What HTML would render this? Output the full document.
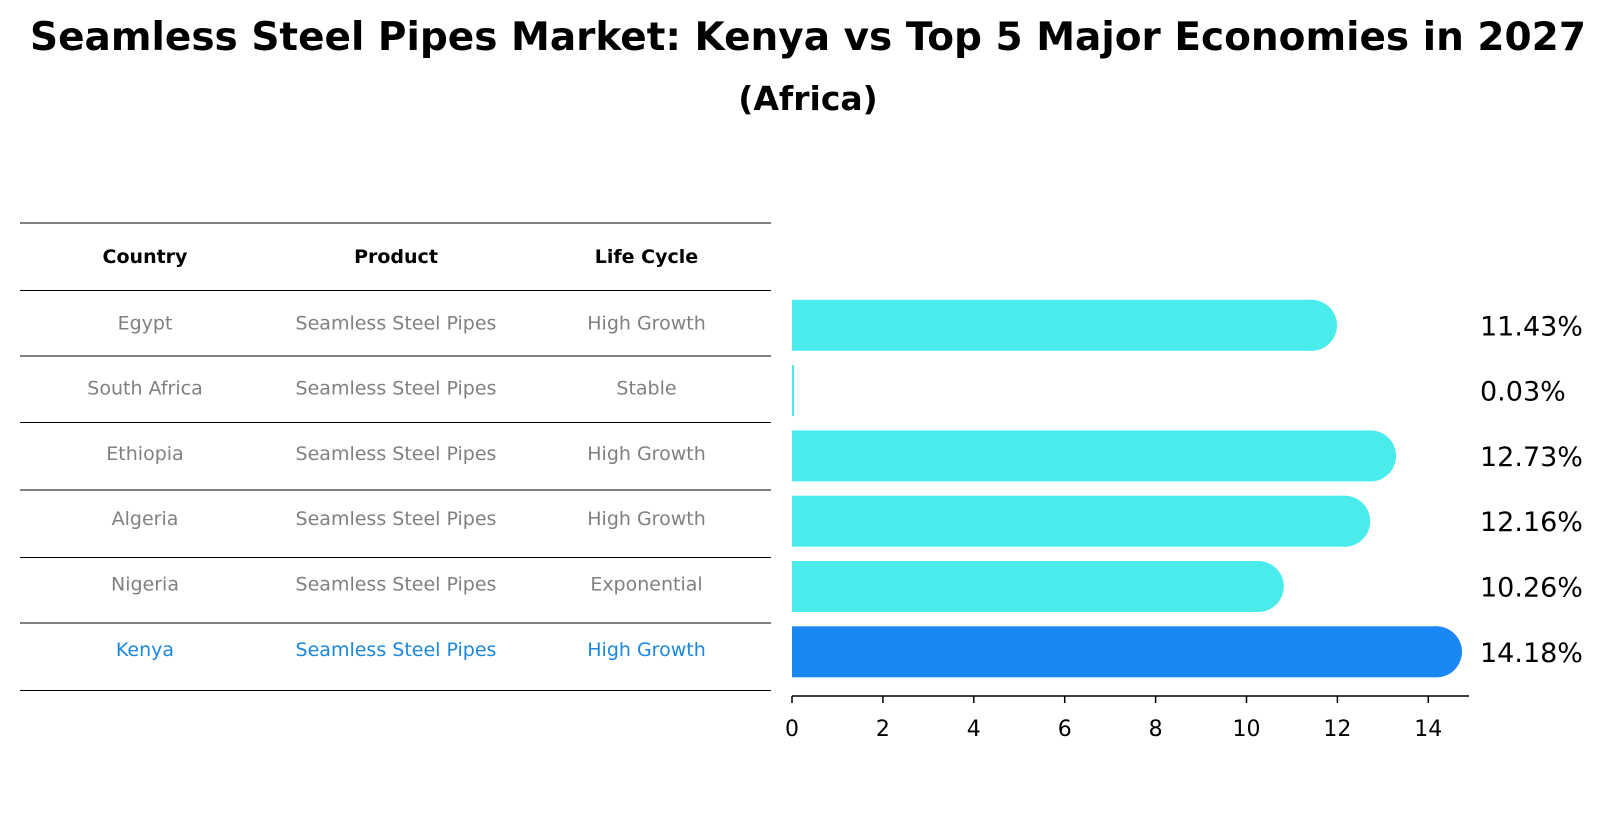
<!DOCTYPE html>
<html><head><meta charset="utf-8"><style>
body{margin:0;background:#fff;font-family:"Liberation Sans","DejaVu Sans",sans-serif;}
#root{position:relative;width:1604px;height:823px;overflow:hidden;}
.t{position:absolute;white-space:nowrap;line-height:1;}
</style></head><body><div id="root">
<div class="t" style="left:0;width:1616px;text-align:center;top:18px;font-size:39px;font-weight:bold;font-family:'DejaVu Sans',sans-serif;">Seamless Steel Pipes Market: Kenya vs Top 5 Major Economies in 2027</div>
<div class="t" style="left:0;width:1616px;text-align:center;top:82px;font-size:33px;font-weight:bold;font-family:'DejaVu Sans',sans-serif;">(Africa)</div>
<svg id="svg" width="1604" height="823" style="position:absolute;left:0;top:0"></svg>
</div>
<script>
const countries=["Egypt","South Africa","Ethiopia","Algeria","Nigeria","Kenya"];
const products=["Seamless Steel Pipes","Seamless Steel Pipes","Seamless Steel Pipes","Seamless Steel Pipes","Seamless Steel Pipes","Seamless Steel Pipes"];
const lifeCycles=["High Growth","Stable","High Growth","High Growth","Exponential","High Growth"];
const values=[11.43,0.03,12.73,12.16,10.26,14.18];
const ticks=[0,2,4,6,8,10,12,14];
const NS="http://www.w3.org/2000/svg";
const svg=document.getElementById('svg');
const x=v=>792+v*45.45;
const rowY=i=>325.3+i*65.3;
function mk(t,a,p){const e=document.createElementNS(NS,t);for(const k in a)e.setAttribute(k,a[k]);(p||svg).appendChild(e);return e;}
const F='DejaVu Sans, sans-serif';
const lines=[223,290.5,356,422.5,490,557.5,623,690.5];
lines.forEach((ly,i)=>{const l=mk('line',{x1:20,x2:771,y1:ly,y2:ly,stroke:'#000','stroke-width':1});

});
const cols=[145,396,646.5];
["Country","Product","Life Cycle"].forEach((h,j)=>{const t=mk('text',{x:cols[j],y:263,'text-anchor':'middle','font-size':19,'font-weight':'bold','font-family':F});t.textContent=h;

});
countries.forEach((c,i)=>{
 const col=i==countries.length-1?'#1a87e0':'#808080';
 [c,products[i],lifeCycles[i]].forEach((s,j)=>{const t=mk('text',{x:cols[j],y:rowY(i)+4,'text-anchor':'middle','font-size':19,fill:col,'font-family':F});t.textContent=s;
 
 });
 const v=values[i];const fill=i==countries.length-1?'#1a87f5':'#4aeceb';
 const h=51,y0=rowY(i)-25.5;
 const g=mk('g',{});
 
 
 const w=x(v)-x(0);
 if(w>3){mk('rect',{x:x(0),y:y0,width:w,height:h,fill:fill},g);mk('circle',{cx:x(v),cy:rowY(i),r:25.5,fill:fill},g);}
 else mk('rect',{x:x(0),y:y0,width:2,height:h,fill:fill},g);
 const lb=mk('text',{x:1480,y:rowY(i)+10,'font-size':27,'font-family':F});lb.textContent=v.toFixed(2)+'%';
 
 
});
const ax=mk('line',{x1:792,x2:1469,y1:696,y2:696,stroke:'#000','stroke-width':1.5});


ticks.forEach(tv=>{const l=mk('line',{x1:x(tv),x2:x(tv),y1:696,y2:703,stroke:'#000','stroke-width':1.5});


const t=mk('text',{x:x(tv),y:736,'text-anchor':'middle','font-size':22,'font-family':F});t.textContent=tv;

});
</script></body></html>
